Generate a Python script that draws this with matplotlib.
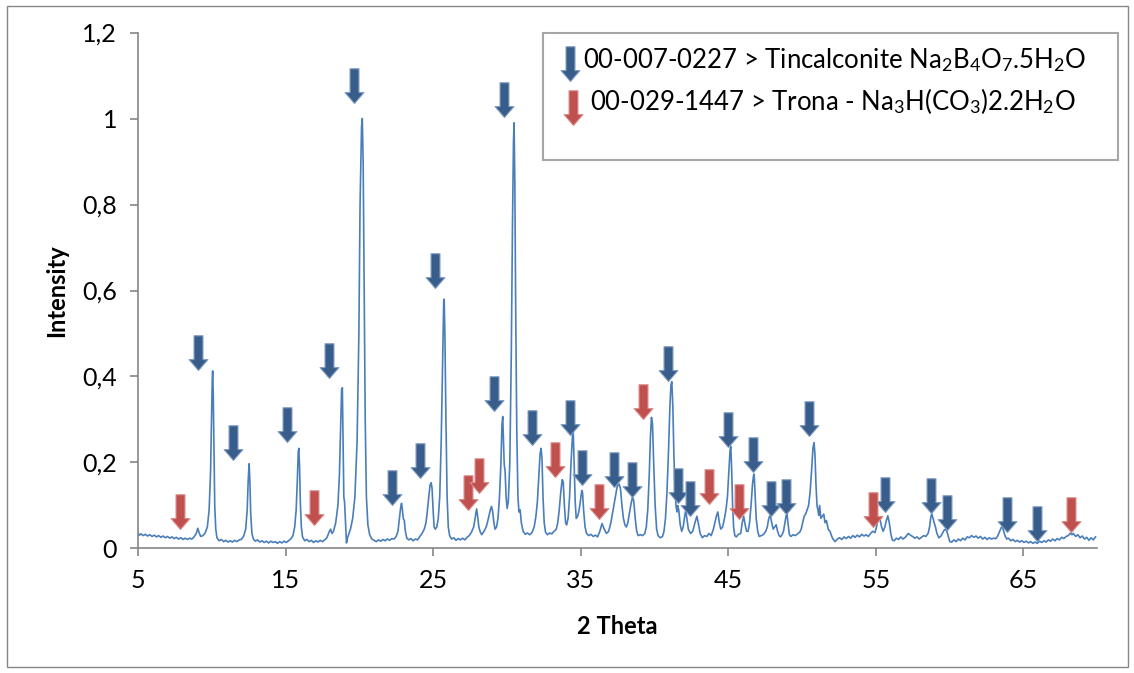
import matplotlib
matplotlib.use('Agg')
import matplotlib.pyplot as plt
from matplotlib.path import Path
from matplotlib.patches import Rectangle

# XRD pattern (2 theta, normalised intensity)
two_theta = [
    5.0, 5.1, 5.2, 5.35, 5.5, 5.65, 5.8, 5.95, 6.1, 6.25, 6.4, 6.55, 6.7, 6.85, 7.0, 7.15,
    7.3, 7.45, 7.6, 7.75, 7.9, 8.05, 8.2, 8.35, 8.5, 8.65, 8.8, 8.95, 9.05, 9.15, 9.25, 9.4,
    9.55, 9.7, 9.82, 9.92, 9.98, 10.03, 10.06, 10.1, 10.15, 10.2, 10.27, 10.35, 10.5, 10.65,
    10.8, 10.95, 11.1, 11.25, 11.4, 11.55, 11.7, 11.85, 12.0, 12.15, 12.3, 12.4, 12.47, 12.53,
    12.58, 12.64, 12.72, 12.82, 12.95, 13.1, 13.25, 13.4, 13.55, 13.7, 13.85, 14.0, 14.15,
    14.3, 14.45, 14.6, 14.75, 14.9, 15.05, 15.2, 15.35, 15.5, 15.62, 15.72, 15.8, 15.86, 15.9,
    15.95, 16.0, 16.07, 16.15, 16.3, 16.45, 16.6, 16.75, 16.9, 17.05, 17.2, 17.35, 17.5, 17.65,
    17.8, 17.95, 18.05, 18.15, 18.25, 18.4, 18.55, 18.65, 18.75, 18.8, 18.85, 18.9, 18.95,
    19.0, 19.05, 19.13, 19.2, 19.3, 19.4, 19.55, 19.7, 19.85, 19.97, 20.05, 20.15, 20.2, 20.26,
    20.33, 20.4, 20.48, 20.58, 20.7, 20.85, 21.0, 21.15, 21.3, 21.45, 21.6, 21.75, 21.9, 22.05,
    22.2, 22.35, 22.5, 22.62, 22.72, 22.8, 22.86, 22.92, 22.98, 23.05, 23.12, 23.22, 23.35,
    23.5, 23.65, 23.8, 23.95, 24.1, 24.25, 24.4, 24.52, 24.62, 24.72, 24.8, 24.87, 24.93, 25.0,
    25.07, 25.15, 25.25, 25.35, 25.45, 25.55, 25.65, 25.72, 25.75, 25.8, 25.87, 25.95, 26.03,
    26.12, 26.25, 26.4, 26.55, 26.7, 26.85, 27.0, 27.15, 27.3, 27.45, 27.6, 27.75, 27.87, 27.95,
    28.02, 28.1, 28.2, 28.3, 28.45, 28.6, 28.75, 28.88, 28.96, 29.04, 29.12, 29.2, 29.3, 29.4,
    29.5, 29.6, 29.67, 29.72, 29.77, 29.82, 29.88, 29.95, 30.02, 30.1, 30.2, 30.3, 30.38, 30.45,
    30.49, 30.54, 30.6, 30.67, 30.75, 30.82, 30.9, 30.98, 31.1, 31.25, 31.4, 31.55, 31.7, 31.85,
    31.97, 32.07, 32.17, 32.25, 32.32, 32.38, 32.45, 32.53, 32.62, 32.75, 32.9, 33.05, 33.2,
    33.35, 33.45, 33.55, 33.65, 33.75, 33.82, 33.9, 33.98, 34.05, 34.15, 34.25, 34.35, 34.45,
    34.5, 34.56, 34.63, 34.7, 34.8, 34.9, 35.0, 35.08, 35.13, 35.2, 35.3, 35.4, 35.55, 35.7,
    35.85, 36.0, 36.15, 36.3, 36.45, 36.6, 36.75, 36.9, 37.05, 37.2, 37.35, 37.48, 37.6, 37.7,
    37.8, 37.9, 38.0, 38.1, 38.2, 38.3, 38.42, 38.52, 38.6, 38.7, 38.8, 38.9, 39.05, 39.2, 39.35,
    39.45, 39.55, 39.65, 39.73, 39.8, 39.87, 39.95, 40.05, 40.15, 40.25, 40.4, 40.55, 40.65,
    40.75, 40.85, 40.95, 41.05, 41.12, 41.18, 41.25, 41.32, 41.4, 41.47, 41.53, 41.58, 41.65,
    41.75, 41.85, 41.95, 42.05, 42.12, 42.2, 42.3, 42.45, 42.6, 42.75, 42.88, 42.97, 43.1,
    43.25, 43.4, 43.55, 43.7, 43.85, 44.0, 44.1, 44.2, 44.3, 44.4, 44.5, 44.62, 44.75, 44.85,
    44.95, 45.05, 45.13, 45.18, 45.24, 45.3, 45.37, 45.45, 45.55, 45.7, 45.85, 45.95, 46.05,
    46.15, 46.25, 46.35, 46.45, 46.55, 46.65, 46.72, 46.76, 46.82, 46.9, 47.0, 47.1, 47.25,
    47.4, 47.55, 47.65, 47.75, 47.85, 47.95, 48.05, 48.15, 48.25, 48.35, 48.45, 48.55, 48.65,
    48.75, 48.85, 48.92, 48.98, 49.05, 49.15, 49.25, 49.4, 49.55, 49.7, 49.85, 49.95, 50.05,
    50.15, 50.25, 50.35, 50.45, 50.55, 50.65, 50.75, 50.82, 50.88, 50.95, 51.02, 51.08, 51.14,
    51.2, 51.28, 51.38, 51.48, 51.56, 51.66, 51.78, 51.9, 52.0, 52.1, 52.25, 52.4, 52.55, 52.7,
    52.85, 53.0, 53.15, 53.3, 53.45, 53.6, 53.75, 53.9, 54.05, 54.2, 54.35, 54.5, 54.65, 54.8,
    54.95, 55.05, 55.15, 55.28, 55.4, 55.5, 55.62, 55.72, 55.82, 55.92, 56.02, 56.12, 56.25,
    56.4, 56.55, 56.7, 56.85, 57.0, 57.1, 57.2, 57.35, 57.5, 57.65, 57.8, 57.95, 58.1, 58.25,
    58.4, 58.55, 58.65, 58.73, 58.8, 58.88, 58.96, 59.05, 59.15, 59.28, 59.4, 59.52, 59.62,
    59.72, 59.82, 59.92, 60.02, 60.15, 60.3, 60.45, 60.6, 60.75, 60.9, 61.05, 61.2, 61.35, 61.5,
    61.65, 61.8, 61.95, 62.1, 62.25, 62.4, 62.55, 62.7, 62.85, 63.0, 63.15, 63.28, 63.4, 63.5,
    63.58, 63.66, 63.76, 63.88, 64.0, 64.15, 64.3, 64.45, 64.6, 64.75, 64.9, 65.05, 65.2, 65.35,
    65.5, 65.65, 65.8, 65.95, 66.1, 66.25, 66.4, 66.55, 66.7, 66.85, 67.0, 67.15, 67.3, 67.45,
    67.6, 67.75, 67.9, 68.05, 68.2, 68.3, 68.4, 68.55, 68.7, 68.85, 69.0, 69.15, 69.3, 69.45,
    69.6, 69.75, 69.9,
]
intensity = [
    0.036, 0.031, 0.034, 0.030, 0.033, 0.029, 0.032, 0.028, 0.031, 0.027, 0.030, 0.026, 0.029,
    0.025, 0.028, 0.024, 0.027, 0.023, 0.026, 0.022, 0.025, 0.021, 0.024, 0.021, 0.024, 0.022,
    0.027, 0.035, 0.047, 0.036, 0.028, 0.030, 0.036, 0.050, 0.090, 0.180, 0.300, 0.390, 0.413,
    0.360, 0.220, 0.100, 0.045, 0.025, 0.018, 0.021, 0.016, 0.019, 0.015, 0.018, 0.015, 0.019,
    0.016, 0.020, 0.021, 0.028, 0.045, 0.090, 0.160, 0.197, 0.160, 0.080, 0.035, 0.022, 0.017,
    0.020, 0.015, 0.018, 0.014, 0.017, 0.013, 0.017, 0.014, 0.016, 0.012, 0.016, 0.013, 0.017,
    0.014, 0.018, 0.022, 0.030, 0.050, 0.090, 0.160, 0.225, 0.233, 0.190, 0.110, 0.050, 0.027,
    0.018, 0.021, 0.016, 0.019, 0.014, 0.018, 0.015, 0.019, 0.016, 0.020, 0.025, 0.038, 0.045,
    0.035, 0.040, 0.060, 0.100, 0.170, 0.300, 0.370, 0.374, 0.250, 0.120, 0.108, 0.070, 0.013,
    0.025, 0.035, 0.045, 0.070, 0.120, 0.250, 0.500, 0.800, 0.980, 1.000, 0.900, 0.600, 0.300,
    0.120, 0.055, 0.032, 0.022, 0.019, 0.016, 0.020, 0.017, 0.021, 0.018, 0.022, 0.019, 0.023,
    0.022, 0.028, 0.040, 0.070, 0.095, 0.105, 0.090, 0.070, 0.065, 0.040, 0.024, 0.020, 0.023,
    0.018, 0.022, 0.020, 0.028, 0.035, 0.045, 0.060, 0.090, 0.125, 0.148, 0.153, 0.140, 0.090,
    0.050, 0.045, 0.050, 0.070, 0.120, 0.250, 0.450, 0.575, 0.580, 0.500, 0.300, 0.120, 0.050,
    0.030, 0.022, 0.025, 0.019, 0.023, 0.020, 0.024, 0.020, 0.026, 0.030, 0.038, 0.050, 0.075,
    0.092, 0.075, 0.050, 0.038, 0.032, 0.040, 0.050, 0.070, 0.090, 0.098, 0.085, 0.060, 0.045,
    0.050, 0.070, 0.120, 0.200, 0.290, 0.307, 0.250, 0.195, 0.180, 0.120, 0.093, 0.110, 0.200,
    0.450, 0.750, 0.950, 0.990, 0.850, 0.550, 0.280, 0.120, 0.085, 0.090, 0.060, 0.040, 0.033,
    0.036, 0.032, 0.037, 0.050, 0.075, 0.110, 0.170, 0.220, 0.233, 0.210, 0.120, 0.060, 0.038,
    0.032, 0.036, 0.034, 0.040, 0.045, 0.060, 0.090, 0.130, 0.160, 0.155, 0.100, 0.060, 0.055,
    0.070, 0.120, 0.200, 0.265, 0.272, 0.200, 0.110, 0.070, 0.075, 0.090, 0.115, 0.135, 0.130,
    0.090, 0.050, 0.035, 0.030, 0.033, 0.028, 0.031, 0.027, 0.040, 0.058, 0.045, 0.035, 0.040,
    0.060, 0.090, 0.120, 0.145, 0.150, 0.140, 0.100, 0.070, 0.055, 0.050, 0.060, 0.080, 0.105,
    0.120, 0.110, 0.070, 0.040, 0.030, 0.032, 0.030, 0.035, 0.050, 0.090, 0.170, 0.260, 0.305,
    0.290, 0.200, 0.100, 0.045, 0.030, 0.025, 0.028, 0.040, 0.070, 0.130, 0.220, 0.330, 0.380,
    0.388, 0.330, 0.220, 0.130, 0.097, 0.085, 0.100, 0.090, 0.055, 0.040, 0.050, 0.075, 0.088,
    0.070, 0.045, 0.035, 0.040, 0.060, 0.075, 0.060, 0.035, 0.025, 0.030, 0.028, 0.035, 0.030,
    0.045, 0.060, 0.075, 0.085, 0.060, 0.045, 0.050, 0.070, 0.090, 0.120, 0.180, 0.230, 0.237,
    0.180, 0.100, 0.050, 0.030, 0.027, 0.033, 0.035, 0.060, 0.075, 0.055, 0.040, 0.040, 0.060,
    0.100, 0.150, 0.170, 0.173, 0.130, 0.070, 0.040, 0.028, 0.030, 0.033, 0.040, 0.050, 0.070,
    0.078, 0.060, 0.045, 0.050, 0.055, 0.040, 0.030, 0.027, 0.032, 0.040, 0.060, 0.075, 0.082,
    0.060, 0.032, 0.028, 0.032, 0.030, 0.034, 0.038, 0.045, 0.060, 0.075, 0.080, 0.090, 0.100,
    0.130, 0.180, 0.235, 0.246, 0.220, 0.150, 0.100, 0.090, 0.077, 0.100, 0.070, 0.075, 0.080,
    0.060, 0.065, 0.045, 0.040, 0.030, 0.022, 0.016, 0.022, 0.025, 0.021, 0.027, 0.023, 0.028,
    0.024, 0.030, 0.026, 0.031, 0.027, 0.033, 0.029, 0.032, 0.028, 0.035, 0.040, 0.037, 0.050,
    0.065, 0.070, 0.050, 0.040, 0.050, 0.065, 0.076, 0.060, 0.035, 0.020, 0.018, 0.024, 0.021,
    0.027, 0.022, 0.026, 0.030, 0.035, 0.031, 0.028, 0.024, 0.027, 0.022, 0.026, 0.030, 0.028,
    0.035, 0.050, 0.072, 0.081, 0.070, 0.060, 0.050, 0.035, 0.025, 0.028, 0.035, 0.042, 0.045,
    0.040, 0.028, 0.016, 0.015, 0.020, 0.016, 0.022, 0.018, 0.024, 0.020, 0.027, 0.025, 0.030,
    0.026, 0.029, 0.024, 0.028, 0.022, 0.026, 0.021, 0.025, 0.022, 0.024, 0.023, 0.030, 0.040,
    0.048, 0.051, 0.042, 0.030, 0.022, 0.024, 0.018, 0.021, 0.016, 0.019, 0.015, 0.018, 0.014,
    0.017, 0.013, 0.016, 0.012, 0.015, 0.012, 0.017, 0.014, 0.018, 0.015, 0.020, 0.017, 0.022,
    0.018, 0.023, 0.020, 0.026, 0.023, 0.028, 0.030, 0.036, 0.032, 0.035, 0.028, 0.032, 0.025,
    0.029, 0.022, 0.026, 0.019, 0.025, 0.020, 0.027,
]

# reference card markers: arrow x position and tip height
tinc_x = [9.09, 11.46, 15.10, 17.95, 19.67, 22.22, 24.14, 25.14, 29.12, 29.81, 31.73, 34.27,
          35.12, 37.25, 38.49, 40.95, 41.63, 42.44, 45.02, 46.65, 47.92, 48.93, 50.51, 55.64,
          58.78, 59.82, 63.87, 65.93]
tinc_y = [0.415, 0.205, 0.247, 0.397, 1.035, 0.102, 0.165, 0.606, 0.320, 1.004, 0.241, 0.264,
          0.147, 0.142, 0.120, 0.390, 0.105, 0.075, 0.237, 0.179, 0.076, 0.080, 0.262, 0.086,
          0.082, 0.043, 0.039, 0.018]
trona_x = [7.87, 16.91, 27.38, 28.14, 33.27, 36.23, 39.26, 43.71, 45.70, 54.80, 68.25]
trona_y = [0.045, 0.054, 0.090, 0.128, 0.167, 0.069, 0.300, 0.103, 0.068, 0.051, 0.039]

x_ticks = [5, 15, 25, 35, 45, 55, 65]
y_ticks = [0, 0.2, 0.4, 0.6, 0.8, 1.0, 1.2]
y_tick_labels = ['0', '0,2', '0,4', '0,6', '0,8', '1', '1,2']

tinc_label = r'00-007-0227 > Tincalconite Na$_2$B$_4$O$_7$.5H$_2$O'
trona_label = r'00-029-1447 > Trona - Na$_3$H(CO$_3$)2.2H$_2$O'

plt.rcParams['font.family'] = ['Lato', 'DejaVu Sans']
plt.rcParams['mathtext.fontset'] = 'custom'
plt.rcParams['mathtext.rm'] = 'Lato'
plt.rcParams['mathtext.it'] = 'Lato:italic'
plt.rcParams['mathtext.bf'] = 'Lato:bold'

# down arrow marker, tip at the origin
arrow = Path([(0, 0), (-9.5, 11), (-4.5, 11), (-4.5, 35), (4.5, 35), (4.5, 11), (9.5, 11), (0, 0)],
             [Path.MOVETO] + [Path.LINETO] * 6 + [Path.CLOSEPOLY])
blue = '#385D8A'
red = '#C0504D'
grey = '#868686'

fig = plt.figure(figsize=(11.34, 6.73), dpi=100)
ax = fig.add_axes([0.1217, 0.185, 0.9674 - 0.1217, 0.9517 - 0.185])

ax.plot(two_theta, intensity, color='#4A7EBB', lw=1.2)
ax.plot(tinc_x, tinc_y, ls='none', marker=arrow, ms=50, mfc=blue, mec='#7f9cc2', mew=0.8)
ax.plot(trona_x, trona_y, ls='none', marker=arrow, ms=50, mfc=red, mec='#d98c8a', mew=0.8)

ax.set_xlim(5, 70)
ax.set_ylim(0, 1.2)
ax.set_xticks(x_ticks)
ax.set_yticks(y_ticks, labels=y_tick_labels)
ax.tick_params(direction='out', length=6, width=1.2, color=grey, labelsize=18, pad=9)
for s in ['top', 'right']:
    ax.spines[s].set_visible(False)
for s in ['left', 'bottom']:
    ax.spines[s].set_color(grey)
    ax.spines[s].set_linewidth(1.2)

ax.set_xlabel('2 Theta', fontsize=17, fontweight='bold', labelpad=16)
ax.set_ylabel('Intensity', fontsize=17, fontweight='bold', labelpad=10)

# legend: overlay axes in pixel units (y down)
leg = fig.add_axes([0, 0, 1, 1], facecolor='none', zorder=10)
leg.set_xlim(0, 1134)
leg.set_ylim(673, 0)
leg.axis('off')
leg.add_patch(Rectangle((543, 33), 575, 127, fc='white', ec='#A6A6A6', lw=1.5))
leg.text(583, 60, tinc_label, fontsize=18.5, va='center')
leg.text(590, 101, trona_label, fontsize=18.5, va='center')
leg.plot([570], [81], ls='none', marker=arrow, ms=50, mfc=blue, mec='#7f9cc2', mew=0.8)
leg.plot([573], [125], ls='none', marker=arrow, ms=50, mfc=red, mec='#d98c8a', mew=0.8)

# chart area border
leg.add_patch(Rectangle((7, 6), 1121, 661, fill=False, ec=grey, lw=1))

fig.savefig('out.png', dpi=100)
